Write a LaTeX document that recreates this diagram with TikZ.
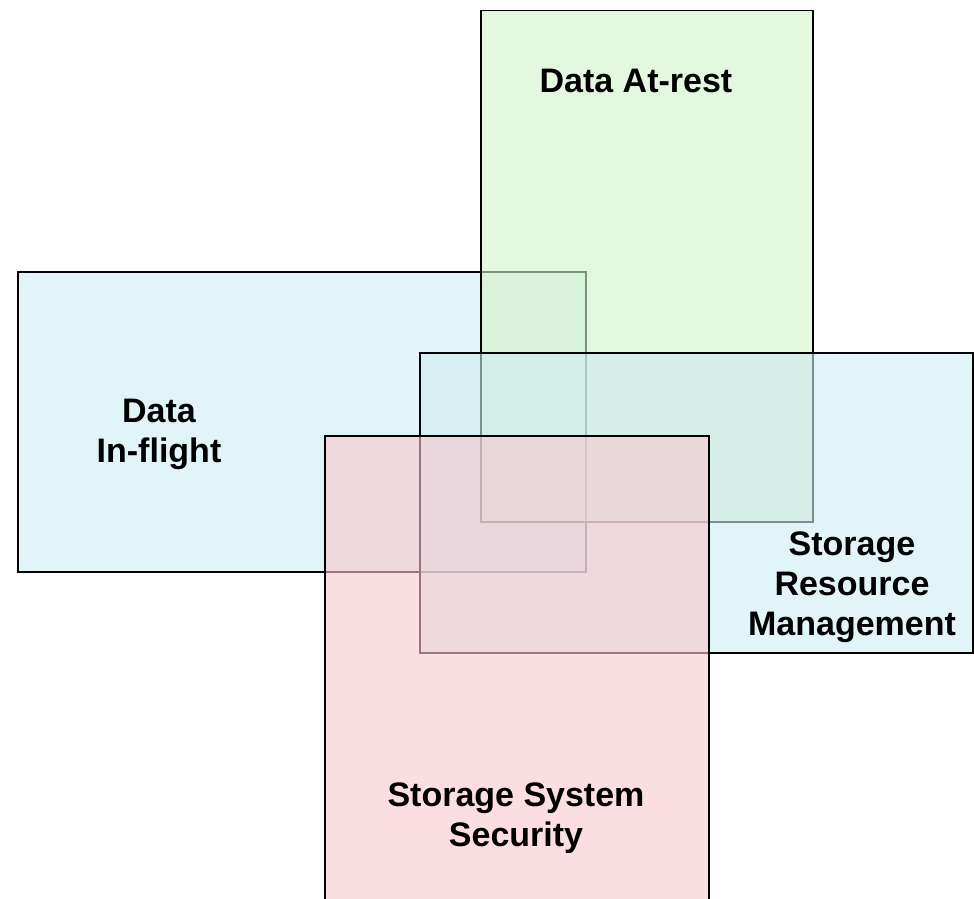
\documentclass[tikz,border=0pt]{standalone}
\usepackage{fontspec}
\setmainfont{Liberation Sans}
\usepackage{xcolor}
\usepackage{tikz}

\definecolor{flightblue}{RGB}{205,236,241}
\definecolor{restgreen}{RGB}{210,242,202}
\definecolor{securepink}{RGB}{248,200,207}

\tikzset{
  zone/.style={draw=black, line width=1.5pt, fill opacity=0.6, draw opacity=1,
    rectangle, inner sep=0pt, anchor=north west},
  zonetext/.style={font=\fontsize{34}{40}\selectfont\bfseries, align=center, text=black}
}

\begin{document}
\begin{tikzpicture}[x=1pt, y=-1pt]
      \useasboundingbox (0,0) rectangle (974,899);
      \node (inflight) [zone, fill=flightblue, minimum width=568pt, minimum height=300pt] at (17,271) {};
      \node (atrest) [zone, fill=restgreen, minimum width=332pt, minimum height=511pt] at (480,10) {};
      \node (resource) [zone, fill=flightblue, minimum width=553pt, minimum height=300pt] at (419,352) {};
      \node (security) [zone, fill=securepink, minimum width=384pt, minimum height=480pt] at (324,435) {};
      \node (atresttext) [zonetext] at (636,81) {Data At-rest};
      \node (inflighttext) [zonetext] at (159,434) {Data\\In-flight};
      \node (resourcetext) [zonetext] at (852,587) {Storage\\Resource\\Management};
      \node (securitytext) [zonetext] at (516,818) {Storage System\\Security};
    \end{tikzpicture}
\end{document}
